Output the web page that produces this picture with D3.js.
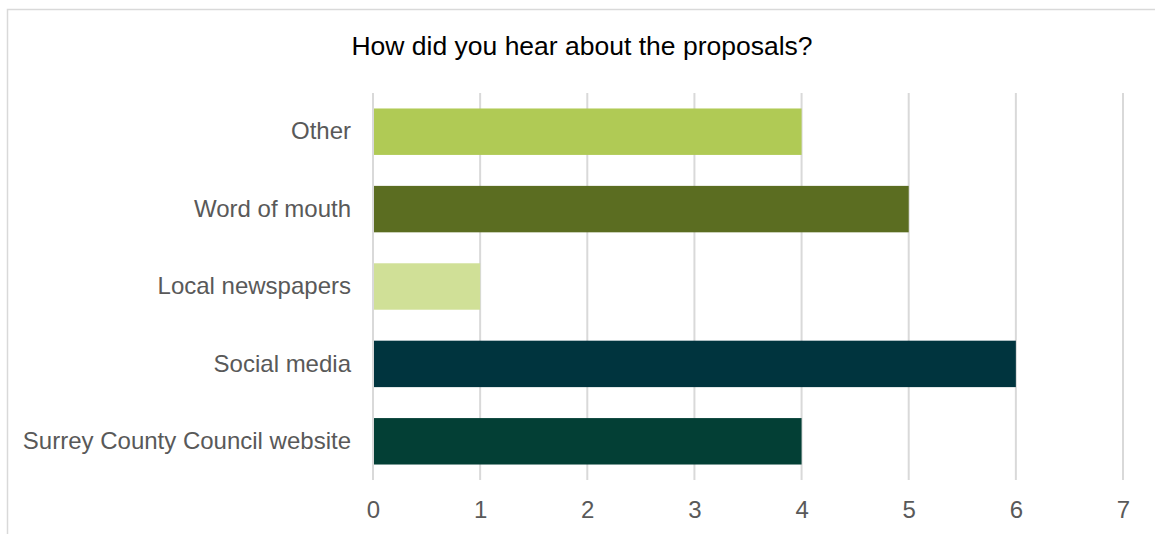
<!DOCTYPE html>
<html><head><meta charset="utf-8">
<script src="https://cdn.jsdelivr.net/npm/d3@7"></script>
<style>
html,body{margin:0;padding:0;background:#fff;overflow:hidden}
svg{display:block}
</style></head><body>
<svg id="c" width="1155" height="534"></svg>
<script>
const categories = ["Other","Word of mouth","Local newspapers","Social media","Surrey County Council website"];
const values = [4,5,1,6,4];
const colors = ["#B0CA55","#5B6D21","#D0E097","#00343E","#033F35"];
const ticks = [0,1,2,3,4,5,6,7];
const title = "How did you hear about the proposals?";

const svg = d3.select("#c");
const font = "'Liberation Sans', Arial, sans-serif";

svg.append("rect").attr("x",7.5).attr("y",9.5).attr("width",1160).attr("height",540)
  .attr("fill","#fff").attr("stroke","#D9D9D9").attr("stroke-width",1.5);

const x = d3.scaleLinear().domain([0,7]).range([373,1123]);
const y = d3.scaleBand().domain(categories).range([93,480]).paddingInner(0.4).paddingOuter(0.2);

svg.append("text").attr("x",582).attr("y",55).attr("text-anchor","middle")
  .attr("font-family",font).attr("font-size",26.5).attr("fill","#000").text(title);

svg.append("g").selectAll("line").data(ticks).join("line")
  .attr("x1",d=>x(d)).attr("x2",d=>x(d)).attr("y1",93).attr("y2",480)
  .attr("stroke","#D9D9D9").attr("stroke-width",2);

svg.append("g").selectAll("rect").data(values).join("rect")
  .attr("x",x(0)+1).attr("y",(d,i)=>y(categories[i]))
  .attr("width",d=>x(d)-x(0)-1).attr("height",y.bandwidth())
  .attr("fill",(d,i)=>colors[i]);

const xAxis = d3.axisBottom(x).tickValues(ticks).tickSize(0).tickPadding(0).tickFormat(d3.format("d"));
const gx = svg.append("g").attr("transform","translate(0,518)").call(xAxis);
gx.select(".domain").remove();
gx.selectAll("text").attr("font-family",font).attr("font-size",24).attr("fill","#595959").attr("y",0).attr("dy",0);

const yAxis = d3.axisLeft(y).tickSize(0).tickPadding(22);
const gy = svg.append("g").attr("transform",`translate(${x(0)},0)`).call(yAxis);
gy.select(".domain").remove();
gy.selectAll("text").attr("font-family",font).attr("font-size",24).attr("fill","#595959");
</script>
</body></html>
